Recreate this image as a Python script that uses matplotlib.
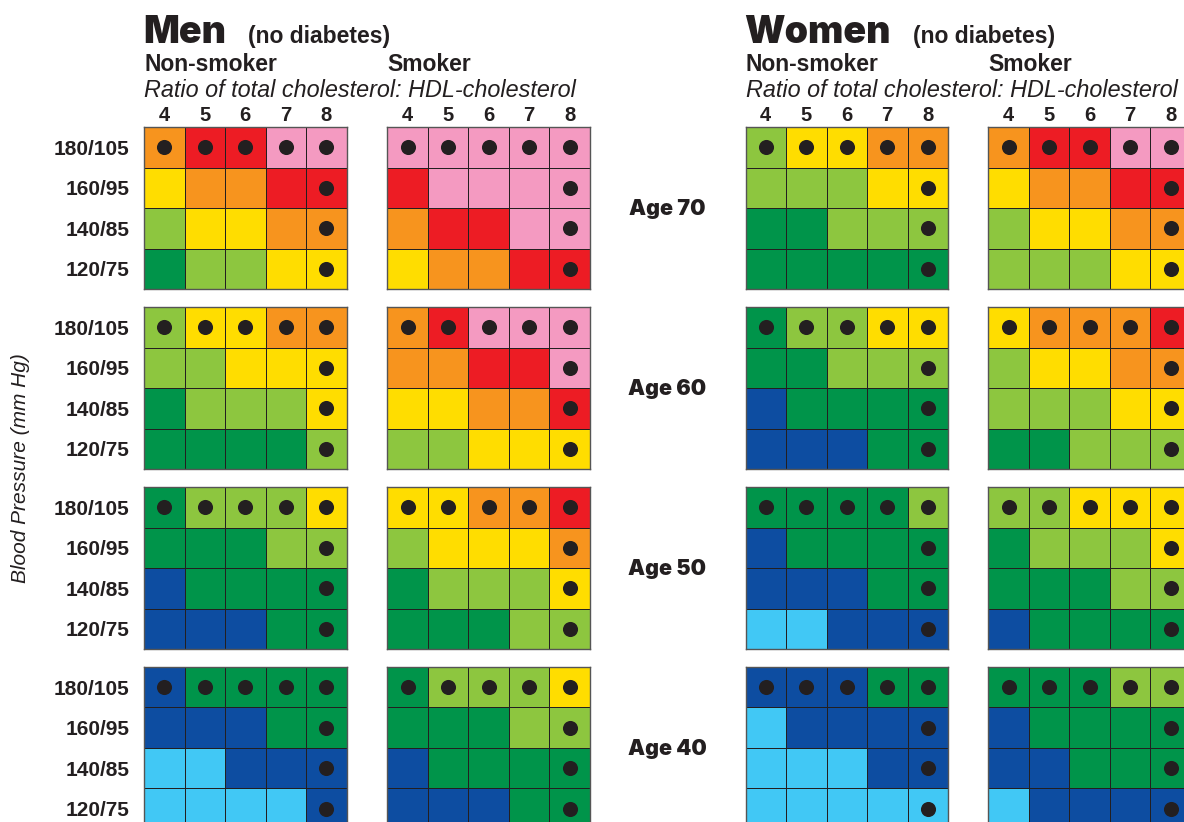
import matplotlib
matplotlib.use('Agg')
import matplotlib.pyplot as plt
from matplotlib.colors import ListedColormap, BoundaryNorm
import numpy as np

# ---------------- data ----------------
risk_colors = ['#41C8F5', '#0D4DA1', '#00944A', '#8DC63F',
               '#FFDD00', '#F7941E', '#ED1C24', '#F49AC1']
ratio_labels = ['4', '5', '6', '7', '8']
bp_labels = ['180/105', '160/95', '140/85', '120/75']
age_labels = ['Age 70', 'Age 60', 'Age 50', 'Age 40']
sex_labels = ['Men', 'Women']
smoke_labels = ['Non-smoker', 'Smoker']
dot_mask = [[1, 1, 1, 1, 1],
            [0, 0, 0, 0, 1],
            [0, 0, 0, 0, 1],
            [0, 0, 0, 0, 1]]

# risk level index per cell (rows: 180/105 .. 120/75, cols: ratio 4..8)
men_nonsmoker_70 = [[5, 6, 6, 7, 7], [4, 5, 5, 6, 6], [3, 4, 4, 5, 5], [2, 3, 3, 4, 4]]
men_nonsmoker_60 = [[3, 4, 4, 5, 5], [3, 3, 4, 4, 4], [2, 3, 3, 3, 4], [2, 2, 2, 2, 3]]
men_nonsmoker_50 = [[2, 3, 3, 3, 4], [2, 2, 2, 3, 3], [1, 2, 2, 2, 2], [1, 1, 1, 2, 2]]
men_nonsmoker_40 = [[1, 2, 2, 2, 2], [1, 1, 1, 2, 2], [0, 0, 1, 1, 1], [0, 0, 0, 0, 1]]

men_smoker_70 = [[7, 7, 7, 7, 7], [6, 7, 7, 7, 7], [5, 6, 6, 7, 7], [4, 5, 5, 6, 6]]
men_smoker_60 = [[5, 6, 7, 7, 7], [5, 5, 6, 6, 7], [4, 4, 5, 5, 6], [3, 3, 4, 4, 4]]
men_smoker_50 = [[4, 4, 5, 5, 6], [3, 4, 4, 4, 5], [2, 3, 3, 3, 4], [2, 2, 2, 3, 3]]
men_smoker_40 = [[2, 3, 3, 3, 4], [2, 2, 2, 3, 3], [1, 2, 2, 2, 2], [1, 1, 1, 2, 2]]

women_nonsmoker_70 = [[3, 4, 4, 5, 5], [3, 3, 3, 4, 4], [2, 2, 3, 3, 3], [2, 2, 2, 2, 2]]
women_nonsmoker_60 = [[2, 3, 3, 4, 4], [2, 2, 3, 3, 3], [1, 2, 2, 2, 2], [1, 1, 1, 2, 2]]
women_nonsmoker_50 = [[2, 2, 2, 2, 3], [1, 2, 2, 2, 2], [1, 1, 1, 2, 2], [0, 0, 1, 1, 1]]
women_nonsmoker_40 = [[1, 1, 1, 2, 2], [0, 1, 1, 1, 1], [0, 0, 0, 1, 1], [0, 0, 0, 0, 0]]

women_smoker_70 = [[5, 6, 6, 7, 7], [4, 5, 5, 6, 6], [3, 4, 4, 5, 5], [3, 3, 3, 4, 4]]
women_smoker_60 = [[4, 5, 5, 5, 6], [3, 4, 4, 5, 5], [3, 3, 3, 4, 4], [2, 2, 3, 3, 3]]
women_smoker_50 = [[3, 3, 4, 4, 4], [2, 3, 3, 3, 4], [2, 2, 2, 3, 3], [1, 2, 2, 2, 2]]
women_smoker_40 = [[2, 2, 2, 3, 3], [1, 2, 2, 2, 2], [1, 1, 2, 2, 2], [0, 1, 1, 1, 1]]

panels = {
    ('Men', 'Non-smoker'): [men_nonsmoker_70, men_nonsmoker_60, men_nonsmoker_50, men_nonsmoker_40],
    ('Men', 'Smoker'): [men_smoker_70, men_smoker_60, men_smoker_50, men_smoker_40],
    ('Women', 'Non-smoker'): [women_nonsmoker_70, women_nonsmoker_60, women_nonsmoker_50, women_nonsmoker_40],
    ('Women', 'Smoker'): [women_smoker_70, women_smoker_60, women_smoker_50, women_smoker_40],
}

# ---------------- layout (pixels) ----------------
W, H = 1184, 822
INK = '#231F20'
panel_left = {('Men', 'Non-smoker'): 144.0, ('Men', 'Smoker'): 387.3,
              ('Women', 'Non-smoker'): 745.5, ('Women', 'Smoker'): 988.3}
panel_top = [127.0, 307.0, 487.0, 667.0]
PW, PH = 202.5, 162.0

FONT = ['Liberation Sans', 'DejaVu Sans']
HEAVY = ['Inter', 'Lato', 'Liberation Sans']

fig = plt.figure(figsize=(W / 100, H / 100), dpi=100)
fig.patch.set_facecolor('white')

cmap = ListedColormap(risk_colors)
norm = BoundaryNorm(np.arange(-0.5, len(risk_colors) + 0.5, 1), cmap.N)


def fx(x):
    return x / W


def fy(y):
    return 1 - y / H


for (sex, smoke), blocks in panels.items():
    left = panel_left[(sex, smoke)]
    for bi, vals in enumerate(blocks):
        top = panel_top[bi]
        ax = fig.add_axes([fx(left), fy(top + PH), PW / W, PH / H])
        arr = np.array(vals)
        ax.pcolormesh(np.arange(arr.shape[1] + 1), np.arange(arr.shape[0] + 1), arr,
                      cmap=cmap, norm=norm, edgecolors=INK, linewidth=0.7)
        mask = np.array(dot_mask)
        rr, cc = np.nonzero(mask)
        ax.scatter(cc + 0.5, rr + 0.5, s=118, color=INK, zorder=3, linewidths=0)
        ax.set_xlim(0, arr.shape[1])
        ax.set_ylim(arr.shape[0], 0)
        for sp in ax.spines.values():
            sp.set_color('#555555')
            sp.set_linewidth(1.0)
        if bi == 0:
            ax.xaxis.tick_top()
            ax.set_xticks(np.arange(len(ratio_labels)) + 0.5)
            ax.set_xticklabels(ratio_labels, fontsize=14.5, fontweight='bold',
                               family=FONT, color=INK)
            ax.tick_params(axis='x', length=0, pad=1.5)
        else:
            ax.set_xticks([])
        if sex == 'Men' and smoke == 'Non-smoker':
            ax.set_yticks(np.arange(len(bp_labels)) + 0.5)
            ax.set_yticklabels(bp_labels, fontsize=15, fontweight='bold',
                               family=FONT, color=INK)
            ax.tick_params(axis='y', length=0, pad=10.5)
        else:
            ax.set_yticks([])

# Titles
for sex in sex_labels:
    l_ns = panel_left[(sex, 'Non-smoker')]
    l_s = panel_left[(sex, 'Smoker')]
    fig.text(fx(l_ns - 1), fy(43), sex, fontsize=27, fontweight='black',
             family=HEAVY, color=INK, va='baseline', ha='left')
    sub_x = 248 if sex == 'Men' else 913
    fig.text(fx(sub_x), fy(43), '(no diabetes)', fontsize=16.5, fontweight='bold',
             family=FONT, color=INK, va='baseline', ha='left')
    fig.text(fx(l_ns), fy(71), smoke_labels[0], fontsize=16.5, fontweight='bold',
             family=FONT, color=INK, va='baseline', ha='left')
    fig.text(fx(l_s), fy(71), smoke_labels[1], fontsize=16.5, fontweight='bold',
             family=FONT, color=INK, va='baseline', ha='left')
    fig.text(fx(l_ns), fy(97), 'Ratio of total cholesterol: HDL-cholesterol',
             fontsize=16.8, style='italic', family=FONT, color=INK,
             va='baseline', ha='left')

# Age labels
for bi, lab in enumerate(age_labels):
    fig.text(fx(667), fy(panel_top[bi] + PH / 2 + 1), lab, fontsize=15.5,
             fontweight='black', family=HEAVY, color=INK, ha='center', va='center')

# Y-axis title
fig.text(fx(21), fy(468), 'Blood Pressure (mm Hg)', fontsize=15, style='italic',
         family=FONT, color=INK, rotation=90, ha='center', va='center')

fig.savefig('out.png', dpi=100, facecolor='white')
